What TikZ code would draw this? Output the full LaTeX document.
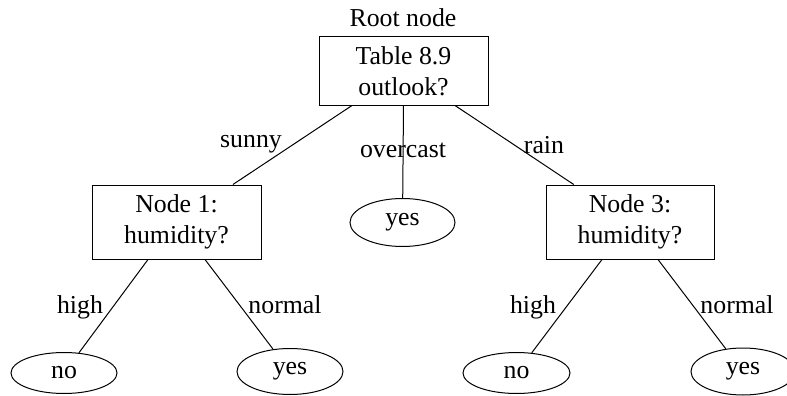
\documentclass[tikz,border=0pt]{standalone}
\usepackage{fontspec}
\setmainfont{Liberation Serif}
\usetikzlibrary{shapes.geometric}
\begin{document}
\begin{tikzpicture}[x=1pt,y=-1pt,line width=1pt,
  every node/.style={font=\fontsize{25.8}{31.5}\selectfont,inner sep=0pt},
  box/.style={draw,rectangle,align=center,minimum width=169pt,minimum height=70pt},
  leaf/.style={draw,ellipse,minimum width=106pt,minimum height=45pt},
  lbl/.style={anchor=base}]
\useasboundingbox (0,0) rectangle (787,396);
\node[lbl] (rl) at (403,27) {Root node};
\node[box,minimum height=68pt] (root) at (403.5,71) {Table 8.9\\outlook?};
\node[box,minimum height=74pt] (n1) at (176.5,222) {Node 1:\\humidity?};
\node[box,minimum height=74pt,minimum width=168pt] (n3) at (630,222) {Node 3:\\humidity?};
\node[leaf,minimum width=105pt,minimum height=48pt] (y0) at (402.5,222.5) {yes};
\node[leaf,minimum height=41pt] (no1) at (64,373) {no};
\node[leaf,minimum height=46pt] (y1) at (290,371.5) {yes};
\node[leaf,minimum width=107pt,minimum height=41pt] (no3) at (516.5,373) {no};
\node[leaf,minimum width=104pt,minimum height=47pt] (y3) at (743,371.5) {yes};
\draw ([xshift=-51.5pt]root.south) -- (n1);
\draw (root.south) -- (y0);
\draw ([xshift=51.5pt]root.south) -- (n3);
\draw ([xshift=-28.5pt]n1.south) -- (no1);
\draw ([xshift=28.5pt]n1.south) -- (y1);
\draw ([xshift=-28pt]n3.south) -- (no3);
\draw ([xshift=28pt]n3.south) -- (y3);
\node[lbl] (l1) at (251,147) {sunny};
\node[lbl] (l2) at (403,157) {overcast};
\node[lbl] (l3) at (544,153) {rain};
\node[lbl] (l4) at (80,313) {high};
\node[lbl] (l5) at (285,313) {normal};
\node[lbl] (l6) at (533,313) {high};
\node[lbl] (l7) at (737,313) {normal};
\end{tikzpicture}
\end{document}
